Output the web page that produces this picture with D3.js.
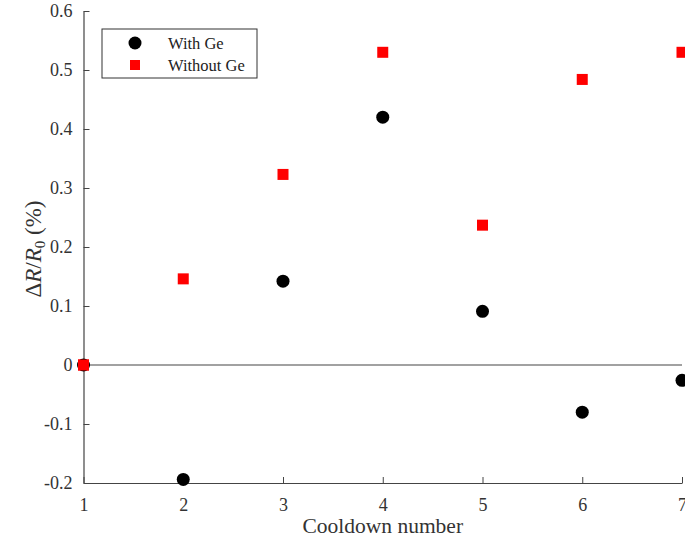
<!DOCTYPE html>
<html>
<head>
<meta charset="utf-8">
<script src="https://cdn.jsdelivr.net/npm/d3@7"></script>
<style>
  body { margin: 0; background: #fff; }
  text { font-family: "Liberation Serif", "DejaVu Serif", serif; }
  .axis path, .axis line { stroke: #444; }
  .axis text { fill: #333; font-size: 18px; }
</style>
</head>
<body>
<svg width="685" height="544"></svg>
<script>
const cooldowns = [1, 2, 3, 4, 5, 6, 7]
const withGe = [0, -0.194, 0.142, 0.42, 0.091, -0.080, -0.026]
const withoutGe = [0, 0.146, 0.323, 0.530, 0.237, 0.484, 0.530]
const yTicks = [-0.2, -0.1, 0, 0.1, 0.2, 0.3, 0.4, 0.5, 0.6]
const yTickLabels = ["-0.2", "-0.1", "0", "0.1", "0.2", "0.3", "0.4", "0.5", "0.6"]

const svg = d3.select("svg"),
      margin = {top: 11, right: 3, bottom: 61, left: 83.5},
      width = svg.attr("width") - margin.left - margin.right,
      height = svg.attr("height") - margin.top - margin.bottom,
      g = svg.append("g").attr("transform", "translate(" + margin.left + "," + margin.top + ")")

const x = d3.scaleLinear().domain([1, 7]).range([0, width]),
      y = d3.scaleLinear().domain([-0.2, 0.6]).range([height, 0])

//zero line
g.append("line")
  .attr("x1", 0).attr("x2", width)
  .attr("y1", y(0)).attr("y2", y(0))
  .style("stroke", "#444").style("stroke-width", 1.2)

g.append("g")
  .attr("class", "axis")
  .attr("transform", "translate(0," + height + ")")
  .attr("font-family", "Liberation Serif")
  .call(d3.axisBottom(x).tickValues(cooldowns).tickFormat(d => String(d)).tickSize(-6).tickSizeOuter(0).tickPadding(15))
  .call(a => a.select(".domain").style("stroke-width", 1.2))

g.append("g")
  .attr("class", "axis")
  .attr("font-family", "Liberation Serif")
  .call(d3.axisLeft(y).tickValues(yTicks).tickFormat((d, i) => yTickLabels[i]).tickSize(-6).tickSizeOuter(0).tickPadding(11))
  .call(a => a.select(".domain").style("stroke-width", 1.2))

//data
g.selectAll(".sq")
  .data(cooldowns)
  .enter().append("rect")
    .attr("x", (d, i) => x(d) - 5.5)
    .attr("y", (d, i) => y(withoutGe[i]) - 5.5)
    .attr("width", 11).attr("height", 11)
    .style("fill", "#ff0000")

g.selectAll(".dot")
  .data(cooldowns)
  .enter().append("circle")
    .attr("cx", d => x(d))
    .attr("cy", (d, i) => y(withGe[i]))
    .attr("r", 6.5)
    .style("fill", "#000")

// first square sits on top of the first dot
g.append("rect")
  .attr("x", x(1) - 5.5).attr("y", y(withoutGe[0]) - 5.5)
  .attr("width", 11).attr("height", 11)
  .style("fill", "#ff0000")

//axis labels
svg.append("text")
  .attr("x", margin.left + width / 2)
  .attr("y", 533)
  .attr("text-anchor", "middle")
  .style("font-size", "21.5px").style("fill", "#333")
  .text("Cooldown number")

const yl = svg.append("text")
  .attr("transform", "translate(41,249) rotate(-90)")
  .attr("text-anchor", "middle")
  .style("font-size", "23px").style("fill", "#333")
yl.append("tspan").text("\u0394")
yl.append("tspan").style("font-style", "italic").text("R")
yl.append("tspan").text("/")
yl.append("tspan").style("font-style", "italic").text("R")
yl.append("tspan").attr("dy", 4).style("font-size", "15px").text("0")
yl.append("tspan").attr("dy", -4).text(" (%)")

//legend
const legend = svg.append("g").attr("transform", "translate(102,29)")
legend.append("rect")
  .attr("width", 155).attr("height", 49)
  .style("fill", "#fff").style("stroke", "#333").style("stroke-width", 1)
legend.append("circle").attr("cx", 33).attr("cy", 14).attr("r", 6.5).style("fill", "#000")
legend.append("rect").attr("x", 28).attr("y", 31).attr("width", 10).attr("height", 10).style("fill", "#ff0000")
legend.append("text").attr("x", 66).attr("y", 20).style("font-size", "16.5px").style("fill", "#222").text("With Ge")
legend.append("text").attr("x", 66).attr("y", 42).style("font-size", "16.5px").style("fill", "#222").text("Without Ge")
</script>
</body>
</html>
